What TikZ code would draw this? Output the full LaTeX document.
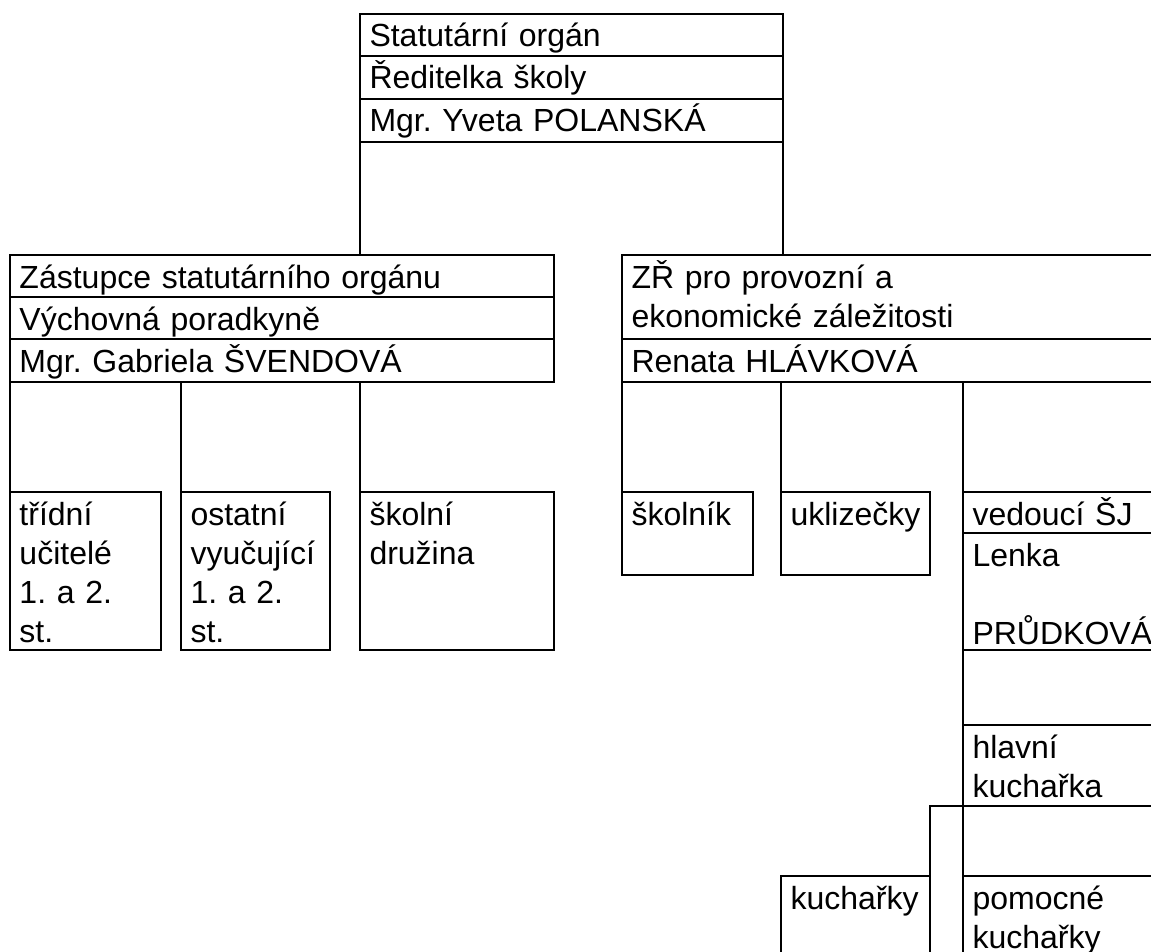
\documentclass[tikz,border=0pt]{standalone}
\usepackage{fontspec}
\setmainfont{Liberation Sans}
\usetikzlibrary{positioning}
\hyphenpenalty=10000
\frenchspacing

\tikzset{
  cell/.style={draw, line width=1.4pt, outer sep=0pt, inner xsep=9.5pt, inner ysep=0pt,
    align=left, anchor=north west, text height=33pt,
    font=\fontsize{32}{39}\selectfont},
  boxframe/.style={line width=2.2pt},
  orgline/.style={line width=1.4pt}
}

\begin{document}
\begin{tikzpicture}[x=1pt,y=-1pt]
        \useasboundingbox (0,0) rectangle (1151,952);
        \clip (0,0) rectangle (1151,952);

        % statutarni organ
        \node [cell, text width=404pt, text depth=9pt] at (360,14) (boss1) {Statutární orgán};
        \node [cell, text width=404pt, text depth=10pt, below=0pt of boss1] (boss2) {Ředitelka školy};
        \node [cell, text width=404pt, text depth=10pt, below=0pt of boss2] (boss3) {Mgr. Yveta POLANSKÁ};
        \draw [boxframe] (boss1.north west) rectangle (boss3.south east);

        % zastupce
        \node [cell, text width=525pt, text depth=9pt] at (10,255) (zast1) {Zástupce statutárního orgánu};
        \node [cell, text width=525pt, text depth=9pt, below=0pt of zast1] (zast2) {Výchovná poradkyně};
        \node [cell, text width=525pt, text depth=10pt, below=0pt of zast2] (zast3) {Mgr. Gabriela ŠVENDOVÁ};
        \draw [boxframe] (zast1.north west) rectangle (zast3.south east);

        \node [cell, text width=559pt, text depth=51pt] at (622,255) (zr1) {ZŘ pro provozní a\\ekonomické záležitosti};
        \node [cell, text width=559pt, text depth=10pt, below=0pt of zr1] (zr2) {Renata HLÁVKOVÁ};
        \draw [boxframe] (zr1.north west) rectangle (zr2.south east);

        % pedagogove
        \node [cell, text width=132pt, text depth=125pt] at (10,492) (tridni) {třídní\\učitelé\\1. a 2.\\st.};
        \node [cell, text width=130pt, text depth=125pt] at (181,492) (ostatni) {ostatní\\vyučující\\1. a 2.\\st.};
        \node [cell, text width=175pt, text depth=125pt] at (360,492) (druzina) {školní\\družina};

        % provoz
        \node [cell, text width=112pt, text depth=50pt] at (622,492) (skolnik) {školník};
        \node [cell, text width=130pt, text depth=50pt] at (781,492) (uklizecky) {uklizečky};
        \node [cell, text width=218pt, text depth=8pt] at (963,492) (vedouci) {vedoucí ŠJ};
        \node [cell, text width=218pt, text depth=84pt, below=0pt of vedouci] (lenka) {Lenka\\\mbox{}\\PRŮDKOVÁ};
        \node [cell, text width=218pt, text depth=48pt] at (963,725) (hlavni) {hlavní\\kuchařka};
        \node [cell, text width=218pt, text depth=87pt] at (963,876) (pomocne) {pomocné\\kuchařky};
        \node [cell, text width=130pt, text depth=87pt] at (781,876) (kucharky) {kuchařky};

        \draw [orgline] (boss3.south west) -- (boss3.south west |- zast1.north);
        \draw [orgline] (boss3.south east) -- (boss3.south east |- zr1.north);
        \draw [orgline] (tridni.north west |- zast3.south) -- (tridni.north west);
        \draw [orgline] (ostatni.north west |- zast3.south) -- (ostatni.north west);
        \draw [orgline] (druzina.north west |- zast3.south) -- (druzina.north west);
        \draw [orgline] (skolnik.north west |- zr2.south) -- (skolnik.north west);
        \draw [orgline] (uklizecky.north west |- zr2.south) -- (uklizecky.north west);
        \draw [orgline] (vedouci.north west |- zr2.south) -- (vedouci.north west);
        \draw [orgline] (lenka.south west) -- (hlavni.north west);
        \draw [orgline] (hlavni.south west) -- (pomocne.north west);
        \draw [orgline] (hlavni.south west) -| (kucharky.north east);
      \end{tikzpicture}
\end{document}
